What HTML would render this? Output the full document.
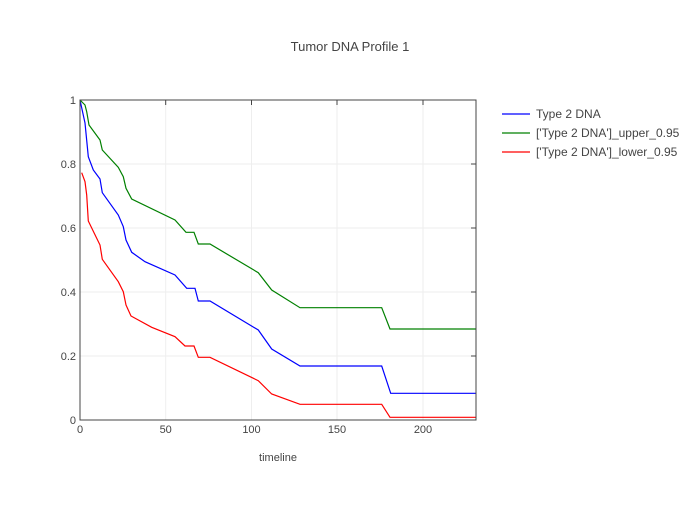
<!DOCTYPE html>
<html><head><meta charset="utf-8"><style>
body{margin:0;background:#fff;}
text{font-family:"Liberation Sans",sans-serif;fill:#444;}
</style></head><body>
<svg width="700" height="500" xmlns="http://www.w3.org/2000/svg">
<rect width="700" height="500" fill="#fff"/>
<g stroke="#eee" stroke-width="1">
<line x1="165.7" y1="100" x2="165.7" y2="420"/>
<line x1="251.5" y1="100" x2="251.5" y2="420"/>
<line x1="337" y1="100" x2="337" y2="420"/>
<line x1="423" y1="100" x2="423" y2="420"/>
<line x1="80" y1="356" x2="476" y2="356"/>
<line x1="80" y1="292" x2="476" y2="292"/>
<line x1="80" y1="228" x2="476" y2="228"/>
<line x1="80" y1="164" x2="476" y2="164"/>
</g>
<g fill="none" stroke-width="1.2">
<polyline stroke="#0000ff" points="80,100 85,123 88.3,156.7 93.3,170 100,179 102.3,192.7 118.3,215 123.3,226.7 126,240 131.7,252.3 145,261.7 175,275 186.7,288.3 195,288.3 198.3,301 210,301 258.3,330 271.7,349 300,366 381.7,366 390.7,393.3 476,393.3"/>
<polyline stroke="#008000" points="80,100 85,105 86.7,111.7 89,125 100,140 102.3,150 118.3,167.3 123.3,176.7 126,188.3 131.7,199 175,220 186,232.3 194,232.3 198.3,244 210,244 258.3,272.7 271.7,290 300,307.7 381.7,307.7 390,329 476,329"/>
<polyline stroke="#ff0000" points="81.7,172.7 85,181.7 86.7,195 88.3,221 100,245 102.3,259.3 118.3,281.7 123.3,291.7 126,305 131,316 151.7,327.3 175,336.7 185,346 194,346 198.3,357.3 210,357.3 258.3,380.7 271.7,394 300,404.3 381.7,404.3 390,417.3 476,417.3"/>
</g>
<rect x="80" y="100" width="396" height="320" fill="none" stroke="#444" stroke-width="1"/>
<g stroke="#444" stroke-width="1">
<line x1="165.7" y1="100" x2="165.7" y2="105"/>
<line x1="251.5" y1="100" x2="251.5" y2="105"/>
<line x1="337" y1="100" x2="337" y2="105"/>
<line x1="423" y1="100" x2="423" y2="105"/>
<line x1="471" y1="356" x2="476" y2="356"/>
<line x1="471" y1="292" x2="476" y2="292"/>
<line x1="471" y1="228" x2="476" y2="228"/>
<line x1="471" y1="164" x2="476" y2="164"/>
</g>
<g font-size="11" text-anchor="middle">
<text x="80" y="433">0</text>
<text x="165.7" y="433">50</text>
<text x="251.5" y="433">100</text>
<text x="337" y="433">150</text>
<text x="423" y="433">200</text>
</g>
<g font-size="11" text-anchor="end">
<text x="76" y="424">0</text>
<text x="76" y="360">0.2</text>
<text x="76" y="296">0.4</text>
<text x="76" y="232">0.6</text>
<text x="76" y="168">0.8</text>
<text x="76" y="104">1</text>
</g>
<text x="350" y="51" font-size="13" text-anchor="middle">Tumor DNA Profile 1</text>
<text x="278" y="461" font-size="11" text-anchor="middle">timeline</text>
<g stroke-width="1.2">
<line x1="502" y1="114" x2="530" y2="114" stroke="#0000ff"/>
<line x1="502" y1="133" x2="530" y2="133" stroke="#008000"/>
<line x1="502" y1="152" x2="530" y2="152" stroke="#ff0000"/>
</g>
<g font-size="12">
<text x="536" y="118">Type 2 DNA</text>
<text x="536" y="137">['Type 2 DNA']_upper_0.95</text>
<text x="536" y="156">['Type 2 DNA']_lower_0.95</text>
</g>
</svg>
</body></html>
